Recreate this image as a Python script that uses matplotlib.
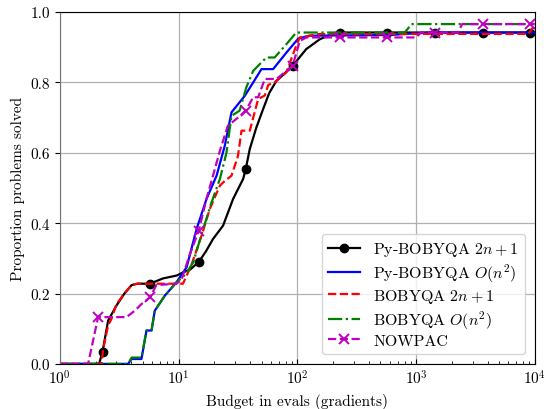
import matplotlib
matplotlib.use("Agg")
import matplotlib.pyplot as plt

# LaTeX-like look
plt.rcParams['font.family'] = 'serif'
plt.rcParams['font.serif'] = ['cmr10']
plt.rcParams['mathtext.fontset'] = 'cm'
plt.rcParams['axes.unicode_minus'] = False
plt.rcParams['axes.formatter.use_mathtext'] = True
plt.rcParams['font.size'] = 11

# Py-BOBYQA 2n+1
pyb_lin_x = [1, 2.14, 2.29, 2.55, 3.0, 3.5, 4.02, 4.5, 5.73, 7.4, 9.6, 10.9, 12.5, 14.8, 17, 19.5,
             23.7, 28.8, 35, 36.8, 39.8, 45, 51.5, 58, 66.8, 75, 91.2, 119, 155, 200, 228, 575,
             1439, 3630, 9080, 10000]
pyb_lin_y = [0, 0, 0.035, 0.123, 0.166, 0.2, 0.224, 0.228, 0.228, 0.243, 0.251, 0.26, 0.268, 0.29,
             0.32, 0.355, 0.393, 0.469, 0.526, 0.554, 0.611, 0.67, 0.724, 0.77, 0.805, 0.82, 0.847,
             0.895, 0.923, 0.939, 0.942, 0.942, 0.942, 0.942, 0.942, 0.942]
pyb_lin_marks = [2, 8, 13, 19, 26, 30, 31, 32, 33, 34]

# Py-BOBYQA O(n^2)
pyb_quad_x = [1, 3.76, 4.02, 4.87, 5.37, 5.92, 6.3, 7.66, 9.6, 11.7, 14.2, 17.2, 20.9, 24.5, 27.9,
              32, 36.1, 42.5, 49.9, 62.6, 81, 102, 127, 600, 1300, 10000]
pyb_quad_y = [0, 0, 0.014, 0.014, 0.095, 0.095, 0.151, 0.194, 0.232, 0.275, 0.384, 0.469, 0.535,
              0.62, 0.715, 0.74, 0.762, 0.80, 0.838, 0.838, 0.885, 0.925, 0.933, 0.935, 0.942, 0.942]

# BOBYQA 2n+1
bob_lin_x = [1, 2.24, 2.32, 2.55, 2.72, 3.0, 3.5, 4.02, 4.5, 10.9, 11.3, 12.8, 15.6, 18.3, 22.3,
             24.5, 27.9, 31.6, 33.9, 39.8, 46.8, 53.3, 56.9, 64.4, 81, 98, 105, 155, 8800, 9600, 10000]
bob_lin_y = [0, 0, 0.043, 0.109, 0.128, 0.17, 0.2, 0.224, 0.228, 0.228, 0.24, 0.28, 0.364, 0.44,
             0.507, 0.52, 0.535, 0.59, 0.663, 0.663, 0.753, 0.763, 0.793, 0.80, 0.829, 0.905, 0.928,
             0.938, 0.938, 0.955, 0.955]

# BOBYQA O(n^2)
bob_quad_x = [1, 3.76, 4.02, 4.87, 5.37, 5.92, 6.3, 7.66, 9.6, 11.5, 13.3, 16, 19, 22.3, 25.3, 27.9,
              32.7, 37.2, 42.5, 49.9, 55, 64.4, 81, 98, 804, 916, 10000]
bob_quad_y = [0, 0, 0.018, 0.018, 0.095, 0.095, 0.151, 0.194, 0.232, 0.255, 0.289, 0.38, 0.46, 0.526,
              0.60, 0.705, 0.72, 0.786, 0.833, 0.857, 0.871, 0.871, 0.909, 0.942, 0.942, 0.966, 0.966]

# NOWPAC
nowpac_x = [1, 1.73, 2.1, 3.64, 4.27, 4.87, 5.73, 6.5, 9.6, 10.6, 12.4, 14.8, 17.2, 19.5, 22.3, 26,
            30.6, 36.8, 42.5, 46.8, 53.3, 66.8, 91.2, 105, 119, 228, 575, 1000, 1100, 1439, 2250,
            2450, 3630, 9080, 10000]
nowpac_y = [0, 0, 0.133, 0.133, 0.151, 0.17, 0.189, 0.224, 0.228, 0.24, 0.31, 0.379, 0.47, 0.535,
            0.606, 0.677, 0.696, 0.72, 0.758, 0.758, 0.81, 0.81, 0.847, 0.918, 0.928, 0.928, 0.928,
            0.928, 0.942, 0.942, 0.942, 0.966, 0.966, 0.966, 0.966]
nowpac_marks = [2, 6, 11, 17, 22, 25, 26, 29, 32, 33]

fig = plt.figure(figsize=(5.44, 4.10), dpi=100)
ax = fig.add_axes([0.110, 0.110, 0.873, 0.858])

ax.semilogx(pyb_lin_x, pyb_lin_y, 'k-', marker='o', markevery=pyb_lin_marks, markersize=6,
            linewidth=1.6, label='Py-BOBYQA $2n+1$')
ax.semilogx(pyb_quad_x, pyb_quad_y, 'b-', linewidth=1.6, label='Py-BOBYQA $O(n^2)$')
ax.semilogx(bob_lin_x, bob_lin_y, 'r--', linewidth=1.6, label='BOBYQA $2n+1$')
ax.semilogx(bob_quad_x, bob_quad_y, 'g-.', linewidth=1.6, label='BOBYQA $O(n^2)$')
ax.semilogx(nowpac_x, nowpac_y, 'm--', marker='x', markevery=nowpac_marks, markersize=7,
            markeredgewidth=1.4, linewidth=1.6, label='NOWPAC')

ax.set_xlim(1, 1e4)
ax.set_ylim(0, 1)
ax.set_yticks([0, 0.2, 0.4, 0.6, 0.8, 1.0])
ax.set_yticklabels(['0.0', '0.2', '0.4', '0.6', '0.8', '1.0'])
ax.grid(True, which='major', color='#b0b0b0', linewidth=0.9)
ax.tick_params(axis='x', which='both', direction='in')
ax.tick_params(axis='y', direction='out')
ax.spines['left'].set_color('0.45')

ax.set_xlabel('Budget in evals (gradients)')
ax.set_ylabel('Proportion problems solved')
ax.legend(loc='lower right', fontsize=11.5, labelspacing=0.2, borderaxespad=0.6)

fig.savefig('out.png', dpi=100)
